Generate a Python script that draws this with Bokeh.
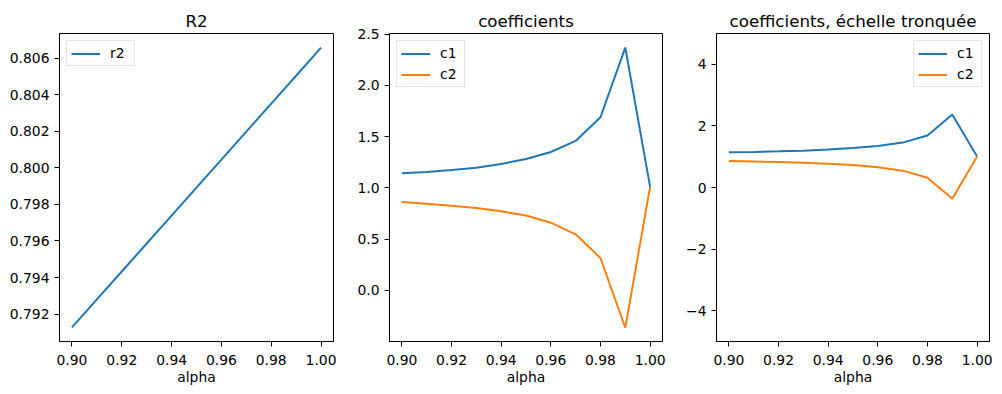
from bokeh.plotting import figure
from bokeh.layouts import row
from bokeh.models import FixedTicker, PrintfTickFormatter, Range1d, Legend, LegendItem
from bokeh.embed import file_html
from bokeh.resources import INLINE

alpha = [0.90, 0.91, 0.92, 0.93, 0.94, 0.95, 0.96, 0.97, 0.98, 0.99, 1.00]
r2 = [0.79127, 0.79280, 0.79433, 0.79586, 0.79739, 0.79892, 0.80045, 0.80198, 0.80351, 0.80504, 0.80658]
c1 = [1.142, 1.155, 1.175, 1.197, 1.233, 1.282, 1.350, 1.458, 1.689, 2.369, 1.009]
c2 = [0.862, 0.845, 0.825, 0.803, 0.772, 0.730, 0.660, 0.547, 0.316, -0.365, 1.009]

x_ticks = [0.90, 0.92, 0.94, 0.96, 0.98, 1.00]
r2_ticks = [0.792, 0.794, 0.796, 0.798, 0.800, 0.802, 0.804, 0.806]
coef_ticks = [0.0, 0.5, 1.0, 1.5, 2.0, 2.5]
trunc_ticks = [-4, -2, 0, 2, 4]
trunc_labels = {-4: "\u22124", -2: "\u22122", 0: "0", 2: "2", 4: "4"}

BLUE = "#1f77b4"
ORANGE = "#ff7f0e"
FONT = "DejaVu Sans"
TICK_FS = "13.9px"


def make_fig(title, y_range, bl, br, fw, bt=33, bb=52):
    p = figure(width=bl + fw + br, height=bt + 308 + bb,
               x_range=Range1d(0.895, 1.005), y_range=y_range,
               output_backend="svg", toolbar_location=None,
               min_border_left=bl, min_border_right=br, min_border_top=bt, min_border_bottom=bb)
    p.title.text = title
    p.title.align = "center"
    p.title.text_font = FONT
    p.title.text_font_size = "16.7px"
    p.title.text_font_style = "normal"
    p.title.text_color = "black"
    p.title.standoff = 5
    p.grid.visible = False
    p.outline_line_color = "black"
    p.outline_line_width = 1
    p.background_fill_color = "white"
    p.border_fill_color = "white"
    for ax in (p.xaxis[0], p.yaxis[0]):
        ax.axis_line_color = "black"
        ax.major_tick_line_color = "black"
        ax.major_tick_out = 5
        ax.major_tick_in = 0
        ax.minor_tick_line_color = None
        ax.major_label_text_font = FONT
        ax.major_label_text_font_size = TICK_FS
        ax.major_label_text_color = "black"
        ax.major_label_standoff = 5
    p.xaxis[0].major_label_standoff = 8
    p.xaxis[0].ticker = FixedTicker(ticks=x_ticks)
    p.xaxis[0].formatter = PrintfTickFormatter(format="%.2f")
    p.xaxis[0].axis_label = "alpha"
    p.xaxis[0].axis_label_text_font = FONT
    p.xaxis[0].axis_label_text_font_size = TICK_FS
    p.xaxis[0].axis_label_text_font_style = "normal"
    p.xaxis[0].axis_label_text_color = "black"
    p.xaxis[0].axis_label_standoff = 1
    return p


def add_legend(p, items, loc):
    lg = Legend(items=items, location=loc, margin=7, padding=4, spacing=5,
                glyph_width=29, glyph_height=15, label_height=15, label_standoff=10,
                label_text_font=FONT, label_text_font_size=TICK_FS, label_text_color="black",
                border_line_color="#cccccc", border_line_width=1,
                background_fill_color="white", background_fill_alpha=0.8)
    p.add_layout(lg, "center")


# Panel 1
p1 = make_fig("R2", Range1d(0.7905, 0.80735), bl=59, br=10, fw=274)
l1 = p1.line(alpha, r2, line_color=BLUE, line_width=2)
p1.yaxis[0].ticker = FixedTicker(ticks=r2_ticks)
p1.yaxis[0].formatter = PrintfTickFormatter(format="%.3f")
add_legend(p1, [LegendItem(label="r2", renderers=[l1])], "top_left")

# Panel 2
p2 = make_fig("coefficients", Range1d(-0.499, 2.506), bl=46, br=10, fw=273)
a2 = p2.line(alpha, c1, line_color=BLUE, line_width=2)
b2 = p2.line(alpha, c2, line_color=ORANGE, line_width=2)
p2.yaxis[0].ticker = FixedTicker(ticks=coef_ticks)
p2.yaxis[0].formatter = PrintfTickFormatter(format="%.1f")
add_legend(p2, [LegendItem(label="c1", renderers=[a2]), LegendItem(label="c2", renderers=[b2])], "top_left")

# Panel 3
p3 = make_fig("coefficients, échelle tronquée", Range1d(-5, 5), bl=44, br=5, fw=273)
a3 = p3.line(alpha, c1, line_color=BLUE, line_width=2)
b3 = p3.line(alpha, c2, line_color=ORANGE, line_width=2)
p3.yaxis[0].ticker = FixedTicker(ticks=trunc_ticks)
p3.yaxis[0].major_label_overrides = trunc_labels
add_legend(p3, [LegendItem(label="c1", renderers=[a3]), LegendItem(label="c2", renderers=[b3])], "top_right")

layout = row(p1, p2, p3)
open("out.html", "w").write(file_html(layout, INLINE))
